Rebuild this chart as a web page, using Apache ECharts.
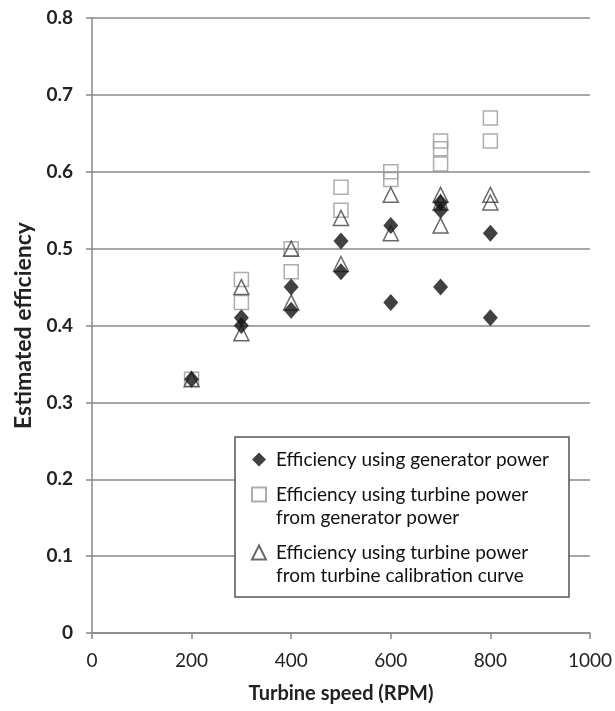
<!DOCTYPE html>
<html><head><meta charset="utf-8">
<script src="https://cdn.jsdelivr.net/npm/echarts@6/dist/echarts.min.js"></script>
<style>html,body{margin:0;padding:0;background:#fff}#c{width:615px;height:711px}</style>
</head><body><div id="c"></div>
<script>
// Turbine speed (RPM) and estimated efficiency values
const genPower = [
  [200,0.33],[300,0.41],[300,0.40],[400,0.45],[400,0.42],[500,0.51],[500,0.47],
  [600,0.53],[600,0.43],[700,0.56],[700,0.55],[700,0.45],[800,0.52],[800,0.41]
];
const turbFromGen = [
  [200,0.33],[300,0.46],[300,0.43],[400,0.50],[400,0.47],[500,0.58],[500,0.55],
  [600,0.60],[600,0.59],[700,0.64],[700,0.63],[700,0.61],[800,0.67],[800,0.64]
];
const turbFromCal = [
  [200,0.33],[300,0.45],[300,0.39],[400,0.50],[400,0.43],[500,0.54],[500,0.48],
  [600,0.57],[600,0.52],[700,0.57],[700,0.56],[700,0.53],[800,0.57],[800,0.56]
];
const names = [
  'Efficiency using generator power',
  'Efficiency using turbine power\nfrom generator power',
  'Efficiency using turbine power\nfrom turbine calibration curve'
];
const xTicks = [0,200,400,600,800,1000];
const yTicks = [0,0.1,0.2,0.3,0.4,0.5,0.6,0.7,0.8];

const chart = echarts.init(document.getElementById('c'), null, {renderer:'canvas'});
const font = 'Lato, "Open Sans", sans-serif';
chart.setOption({
  animation:false,
  backgroundColor:'#fff',
  grid:{left:92,right:23,top:18,bottom:78},
  xAxis:{
    type:'value',min:xTicks[0],max:xTicks[xTicks.length-1],interval:200,
    name:'Turbine speed (RPM)',nameLocation:'middle',nameGap:51,
    nameTextStyle:{fontFamily:font,fontWeight:'bold',fontSize:20,color:'#222'},
    axisLine:{show:true,lineStyle:{color:'#888',width:1.5}},
    axisTick:{show:true,length:6,lineStyle:{color:'#888',width:1.5}},
    axisLabel:{fontFamily:font,fontSize:19,color:'#222',margin:18,formatter:v=>String(v)},
    splitLine:{show:false}
  },
  yAxis:{
    type:'value',min:yTicks[0],max:yTicks[yTicks.length-1],interval:0.1,
    name:'Estimated efficiency',nameLocation:'middle',nameGap:47,
    nameTextStyle:{fontFamily:font,fontWeight:'bold',fontSize:23,color:'#222'},
    axisLine:{show:true,lineStyle:{color:'#888',width:1.5}},
    axisTick:{show:true,length:6,lineStyle:{color:'#888',width:1.5}},
    axisLabel:{fontFamily:font,fontSize:19,fontWeight:'bold',color:'#222',margin:19,
      formatter:v=>String(Math.round(v*10)/10)},
    splitLine:{show:true,lineStyle:{color:'#8a8a8a',width:1.5}}
  },
  legend:{
    orient:'vertical',left:235,top:437,
    data:names,
    formatter:n=>n.indexOf('\n')>=0 ? ' \n'+n : n,
    backgroundColor:'#fff',borderColor:'#555',borderWidth:1.5,
    padding:[11,20,10,16],itemGap:-11,itemWidth:14,itemHeight:14,
    textStyle:{fontFamily:font,fontSize:19,color:'#111',lineHeight:23,padding:[0,0,0,5]}
  },
  series:[
    {name:names[1],type:'scatter',data:turbFromGen,symbol:'rect',symbolSize:14,z:2,
     itemStyle:{color:'rgba(255,255,255,0)',borderColor:'#999',borderWidth:1.5}},
    {name:names[2],type:'scatter',data:turbFromCal,symbol:'triangle',symbolSize:[15,15],z:3,
     itemStyle:{color:'rgba(255,255,255,0)',borderColor:'#444',borderWidth:1.5}},
    {name:names[0],type:'scatter',data:genPower,symbol:'diamond',symbolSize:[15,17],z:4,
     itemStyle:{color:'#111',borderColor:'#111',borderWidth:0}}
  ]
});
</script></body></html>
